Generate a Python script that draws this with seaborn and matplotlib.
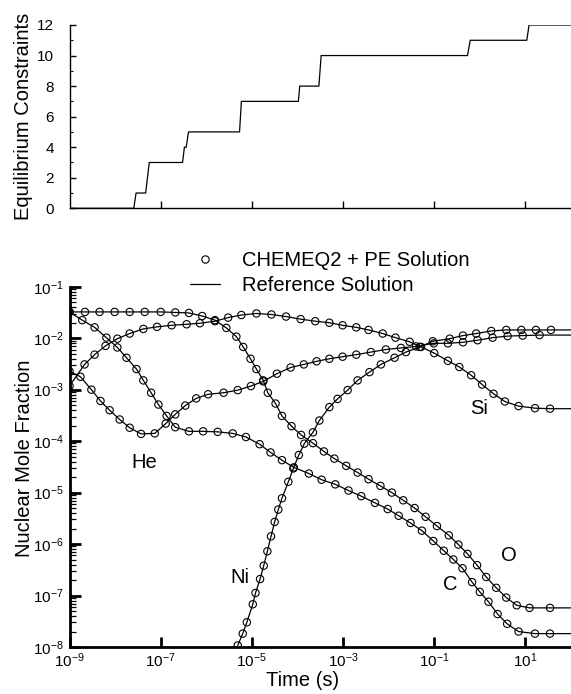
import numpy as np
import pandas as pd
import seaborn as sns
import matplotlib.pyplot as plt
from matplotlib.lines import Line2D
from matplotlib.ticker import FixedLocator, FuncFormatter, NullLocator, NullFormatter

# equilibrium constraints vs time (log10 of time in s)
eq_logt = [-9.0, -7.59, -7.54, -7.33, -7.25, -6.52, -6.48, -6.44, -6.39, -5.27, -5.23,
           -3.98, -3.95, -3.53, -3.48, -0.27, -0.21, 1.03, 1.08, 2.0]
eq_count = [0, 0, 1, 1, 3, 3, 4, 4, 5, 5, 7, 7, 8, 8, 10, 10, 11, 11, 12, 12]

# nuclear mole fractions (log10 time, log10 mole fraction)
he_logt = [-9.0, -8.76, -8.52, -8.32, -8.12, -7.90, -7.68, -7.43, -7.13, -6.89, -6.68, -6.46,
           -6.22, -5.96, -5.62, -5.31, -5.02, -4.75, -4.45, -4.15, -3.86, -3.58, -3.30, -3.01,
           -2.71, -2.39, -2.06, -1.73, -1.40, -1.01, -0.70, -0.37, -0.05, 0.28, 0.61, 0.94, 1.31]
he_logx = [-2.64, -2.75, -3.00, -3.22, -3.40, -3.58, -3.74, -3.86, -3.85, -3.66, -3.48, -3.31,
           -3.17, -3.09, -3.06, -3.01, -2.93, -2.84, -2.69, -2.57, -2.51, -2.45, -2.40, -2.36,
           -2.32, -2.27, -2.22, -2.19, -2.16, -2.10, -2.10, -2.08, -2.04, -1.99, -1.96, -1.95, -1.94]

si_logt = [-9.0, -8.67, -8.45, -8.21, -7.95, -7.68, -7.38, -7.08, -6.76, -6.43, -6.14, -5.81,
           -5.52, -5.23, -4.90, -4.57, -4.25, -3.93, -3.61, -3.30, -3.01, -2.71, -2.44, -2.13,
           -1.85, -1.54, -1.29, -1.00, -0.70, -0.45, -0.19, 0.05, 0.30, 0.55, 0.85, 1.21, 1.54]
si_logx = [-2.93, -2.51, -2.32, -2.15, -2.01, -1.91, -1.82, -1.78, -1.75, -1.73, -1.71, -1.67,
           -1.60, -1.55, -1.52, -1.54, -1.58, -1.63, -1.67, -1.70, -1.75, -1.79, -1.84, -1.91,
           -1.99, -2.07, -2.17, -2.29, -2.44, -2.56, -2.72, -2.90, -3.08, -3.23, -3.32, -3.36, -3.37]

ni_logt = [-5.31, -5.20, -5.11, -4.98, -4.92, -4.82, -4.74, -4.66, -4.58, -4.50, -4.42, -4.34,
           -4.20, -4.09, -3.97, -3.85, -3.66, -3.52, -3.30, -3.12, -2.90, -2.68, -2.42, -2.17,
           -1.87, -1.62, -1.32, -1.03, -0.66, -0.37, -0.08, 0.25, 0.58, 0.91, 1.23, 1.56]
ni_logx = [-7.97, -7.74, -7.52, -7.17, -6.95, -6.68, -6.42, -6.14, -5.85, -5.57, -5.33, -5.11,
           -4.79, -4.53, -4.27, -4.05, -3.83, -3.60, -3.34, -3.18, -3.01, -2.82, -2.66, -2.51,
           -2.38, -2.27, -2.17, -2.06, -2.01, -1.95, -1.91, -1.86, -1.84, -1.84, -1.84, -1.84]

o_logt = [-9.0, -8.66, -8.34, -8.01, -7.68, -7.35, -7.00, -6.68, -6.38, -6.09, -5.81, -5.56,
          -5.34, -5.19, -5.03, -4.90, -4.75, -4.65, -4.48, -4.34, -4.13, -3.92, -3.66, -3.42,
          -3.19, -2.93, -2.68, -2.44, -2.18, -1.93, -1.68, -1.43, -1.19, -0.94, -0.68, -0.47,
          -0.27, -0.06, 0.14, 0.36, 0.58, 0.81, 1.09, 1.54]
o_logx = [-1.49, -1.49, -1.49, -1.49, -1.49, -1.49, -1.49, -1.50, -1.51, -1.57, -1.65, -1.80,
          -1.97, -2.17, -2.40, -2.60, -2.82, -3.06, -3.27, -3.51, -3.71, -3.88, -4.04, -4.20,
          -4.34, -4.48, -4.61, -4.74, -4.87, -5.00, -5.15, -5.30, -5.47, -5.65, -5.83, -6.01,
          -6.19, -6.41, -6.64, -6.85, -7.04, -7.19, -7.24, -7.24]

c_logt = [-9.0, -8.72, -8.45, -8.19, -7.95, -7.75, -7.53, -7.38, -7.21, -7.05, -6.87, -6.68,
          -6.38, -6.07, -5.75, -5.42, -5.13, -4.83, -4.59, -4.34, -4.08, -3.75, -3.47, -3.17,
          -2.88, -2.60, -2.30, -2.02, -1.78, -1.52, -1.27, -1.02, -0.79, -0.58, -0.38, -0.17,
          0.00, 0.19, 0.39, 0.60, 0.85, 1.21, 1.54]
c_logx = [-1.49, -1.65, -1.79, -1.99, -2.18, -2.38, -2.60, -2.82, -3.06, -3.29, -3.51, -3.73,
          -3.81, -3.81, -3.82, -3.85, -3.92, -4.06, -4.22, -4.37, -4.51, -4.63, -4.75, -4.84,
          -4.96, -5.07, -5.20, -5.32, -5.45, -5.59, -5.74, -5.94, -6.13, -6.30, -6.47, -6.74,
          -6.93, -7.12, -7.36, -7.55, -7.70, -7.74, -7.74]

t_end = 2.0  # reference curves run on to the end of the axis

# species labels: name, log10 time, log10 fraction
labels = [("He", -7.35, -4.42), ("Si", -0.02, -3.36), ("Ni", -5.27, -6.65),
          ("O", 0.64, -6.23), ("C", -0.64, -6.79)]

series = {"He": (he_logt, he_logx), "Si": (si_logt, si_logx), "Ni": (ni_logt, ni_logx),
          "O": (o_logt, o_logx), "C": (c_logt, c_logx)}

pts, lines = [], []
for name, (lt, lx) in series.items():
    d = pd.DataFrame({"species": name, "t": 10.0 ** np.array(lt), "x": 10.0 ** np.array(lx)})
    pts.append(d)
    tail = pd.DataFrame({"species": [name], "t": [10.0 ** t_end], "x": [10.0 ** lx[-1]]})
    lines.append(pd.concat([d, tail], ignore_index=True))
pts_df = pd.concat(pts, ignore_index=True)
line_df = pd.concat(lines, ignore_index=True)
eq_df = pd.DataFrame({"t": 10.0 ** np.array(eq_logt), "n": eq_count})

sns.set_style("ticks")
plt.rcParams["font.family"] = ["Liberation Sans", "DejaVu Sans"]
plt.rcParams["mathtext.fontset"] = "custom"
plt.rcParams["mathtext.rm"] = "Liberation Sans"
plt.rcParams["mathtext.it"] = "Liberation Sans:italic"
plt.rcParams["mathtext.bf"] = "Liberation Sans:bold"
for key in ["text.color", "axes.labelcolor", "xtick.color", "ytick.color", "axes.edgecolor"]:
    plt.rcParams[key] = "black"

fig = plt.figure(figsize=(5.71, 6.94), dpi=100)
fig.patch.set_facecolor("white")

W, H = 571.0, 694.0
ax_top = fig.add_axes([69.5 / W, 1 - 208.3 / H, 1 - 69.5 / W, (208.3 - 25.0) / H])
ax = fig.add_axes([69.5 / W, 1 - 647.0 / H, 1 - 69.5 / W, (647.0 - 286.7) / H])

# top panel
sns.lineplot(data=eq_df, x="t", y="n", sort=False, estimator=None, color="black",
             linewidth=0.9, ax=ax_top)
ax_top.set_xscale("log")
ax_top.set_xlim(1e-9, 1e2)
ax_top.set_ylim(0, 12)
ax_top.xaxis.set_major_locator(FixedLocator([1e-7, 1e-5, 1e-3, 1e-1, 1e1]))
ax_top.xaxis.set_major_formatter(NullFormatter())
ax_top.xaxis.set_minor_locator(NullLocator())
ax_top.yaxis.set_major_locator(FixedLocator(range(0, 13, 2)))
ax_top.yaxis.set_minor_locator(FixedLocator(range(1, 12, 2)))
ax_top.tick_params(axis="x", which="major", direction="in", length=5, width=1.0, bottom=True)
ax_top.tick_params(axis="y", which="major", direction="in", length=4, width=1.0,
                   labelsize=11, pad=11, left=True)
ax_top.tick_params(axis="y", which="minor", direction="in", length=2.5, width=0.8, left=True)
ax_top.set_xlabel("")
ax_top.set_ylabel("Equilibrium Constraints", fontsize=14.5, va="center")
ax_top.yaxis.set_label_coords(-0.091, 0.5)
for s in ["top", "right"]:
    ax_top.spines[s].set_visible(False)
for s in ["left", "bottom"]:
    ax_top.spines[s].set_linewidth(1.0)
ax_top.patch.set_alpha(0)

# bottom panel
sns.lineplot(data=line_df, x="t", y="x", units="species", estimator=None, sort=False,
             color="black", linewidth=0.9, legend=False, ax=ax)
sns.scatterplot(data=pts_df, x="t", y="x", marker="o", s=28, facecolors="none",
                edgecolor="black", linewidth=0.8, legend=False, ax=ax, zorder=3)
ax.set_xscale("log")
ax.set_yscale("log")
ax.set_xlim(1e-9, 1e2)
ax.set_ylim(1e-8, 1e-1)

sup = FuncFormatter(lambda v, p: r"$10^{%d}$" % int(round(np.log10(v))))
ax.xaxis.set_major_locator(FixedLocator([1e-9, 1e-7, 1e-5, 1e-3, 1e-1, 1e1]))
ax.xaxis.set_major_formatter(sup)
ax.xaxis.set_minor_locator(NullLocator())
ax.yaxis.set_major_locator(FixedLocator([10.0 ** k for k in range(-8, 0)]))
ax.yaxis.set_major_formatter(sup)
ax.yaxis.set_minor_locator(FixedLocator([m * 10.0 ** k for k in range(-8, -1) for m in range(2, 10)]))
ax.yaxis.set_minor_formatter(NullFormatter())
ax.tick_params(axis="x", which="major", direction="in", length=7, width=2.0,
               labelsize=11, pad=3, bottom=True)
ax.tick_params(axis="y", which="major", direction="in", length=8, width=2.0,
               labelsize=11, pad=4, left=True)
ax.tick_params(axis="y", which="minor", direction="in", length=4.5, width=0.9, left=True)
for s in ["top", "right"]:
    ax.spines[s].set_visible(False)
for s in ["left", "bottom"]:
    ax.spines[s].set_linewidth(2.0)
ax.patch.set_alpha(0)

ax.set_xlabel("Time (s)", fontsize=14.5, va="center")
ax.xaxis.set_label_coords(0.4646, -0.092)
ax.set_ylabel("Nuclear Mole Fraction", fontsize=14.5, va="center")
ax.yaxis.set_label_coords(-0.0906, 0.525)

for name, lt, lx in labels:
    ax.text(10.0 ** lt, 10.0 ** lx, name, fontsize=14.5, ha="center", va="center")

handles = [Line2D([], [], linestyle="none", marker="o", markersize=5.3, markerfacecolor="none",
                  markeredgecolor="black", markeredgewidth=0.8),
           Line2D([], [], color="black", linewidth=0.9)]
fig.legend(handles, ["CHEMEQ2 + PE Solution", "Reference Solution"], loc="upper left",
           bbox_to_anchor=(190 / W, 1 - 251 / H), frameon=False, fontsize=14.5,
           handlelength=1.5, handletextpad=1.1, labelspacing=0.32, borderpad=0,
           borderaxespad=0)

fig.savefig("out.png", dpi=100, facecolor="white")
